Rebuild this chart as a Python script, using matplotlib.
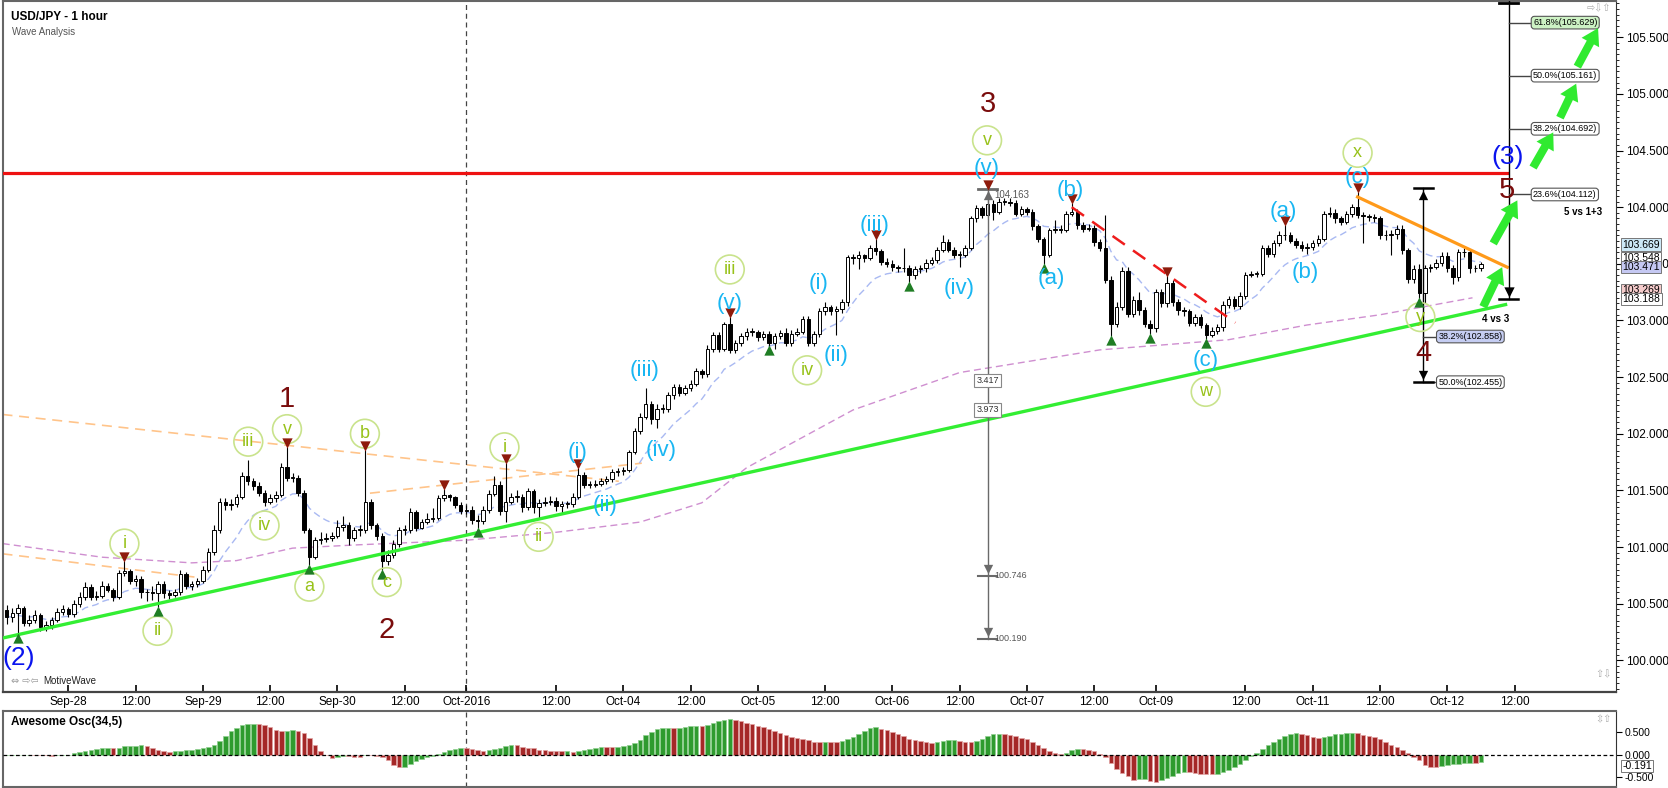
import numpy as np
import pandas as pd
import matplotlib
matplotlib.use('Agg')
import matplotlib.pyplot as plt
from matplotlib.ticker import MultipleLocator, FormatStrFormatter
import matplotlib.transforms as mtrans

plt.rcParams['font.family'] = ['Liberation Sans', 'DejaVu Sans']

# hourly USD/JPY bars, Sep 27 13:00 -> Oct 12 morning (bar index = hour count)
first_open = 100.44
closes = [
    100.38, 100.42, 100.46, 100.33, 100.36, 100.40, 100.29, 100.31, 100.36, 100.43, 100.45, 100.41,
    100.50, 100.56, 100.65, 100.56, 100.57, 100.66, 100.62, 100.56, 100.77, 100.79, 100.70, 100.72,
    100.60, 100.60, 100.59, 100.67, 100.59, 100.58, 100.60, 100.76, 100.66, 100.67, 100.70, 100.80,
    100.96, 101.15, 101.40, 101.37, 101.38, 101.44, 101.63, 101.58, 101.54, 101.48, 101.40, 101.43,
    101.46, 101.71, 101.61, 101.61, 101.48, 101.15, 100.91, 101.06, 101.07, 101.08, 101.10, 101.18,
    101.19, 101.08, 101.15, 101.15, 101.40, 101.19, 101.10, 100.88, 100.93, 101.03, 101.15, 101.15,
    101.31, 101.17, 101.22, 101.25, 101.26, 101.43, 101.46, 101.44, 101.37, 101.32, 101.33, 101.24,
    101.23, 101.33, 101.47, 101.55, 101.32, 101.40, 101.44, 101.44, 101.35, 101.49, 101.35, 101.39,
    101.40, 101.41, 101.36, 101.38, 101.38, 101.44, 101.64, 101.55, 101.55, 101.56, 101.58, 101.60,
    101.66, 101.67, 101.68, 101.84, 102.02, 102.15, 102.26, 102.13, 102.22, 102.22, 102.34, 102.41,
    102.36, 102.40, 102.44, 102.55, 102.53, 102.75, 102.87, 102.75, 102.97, 102.74, 102.80, 102.86,
    102.90, 102.90, 102.85, 102.88, 102.80, 102.86, 102.89, 102.80, 102.88, 102.90, 103.01, 102.80,
    102.88, 103.08, 103.12, 103.08, 103.10, 103.16, 103.56, 103.55, 103.58, 103.55, 103.64, 103.61,
    103.52, 103.50, 103.47, 103.46, 103.46, 103.40, 103.45, 103.46, 103.51, 103.53, 103.62, 103.69,
    103.62, 103.58, 103.58, 103.64, 103.90, 103.99, 103.93, 104.03, 103.96, 104.05, 104.05, 104.04,
    103.94, 103.98, 103.96, 103.83, 103.72, 103.58, 103.80, 103.81, 103.80, 103.94, 103.96, 103.84,
    103.81, 103.82, 103.69, 103.64, 103.36, 102.97, 103.12, 103.44, 103.06, 103.18, 103.09, 102.97,
    102.93, 103.25, 103.15, 103.33, 103.16, 103.09, 103.08, 102.98, 103.03, 102.96, 102.87, 102.91,
    102.94, 103.14, 103.19, 103.13, 103.22, 103.40, 103.41, 103.41, 103.64, 103.59, 103.68, 103.75,
    103.75, 103.70, 103.67, 103.64, 103.65, 103.68, 103.72, 103.94, 103.95, 103.90, 103.87, 103.94,
    104.00, 103.93, 103.92, 103.91, 103.90, 103.75, 103.75, 103.76, 103.81, 103.62, 103.37, 103.45,
    103.24, 103.46, 103.47, 103.51, 103.57, 103.46, 103.38, 103.60, 103.60, 103.46, 103.46, 103.50,
]
highs = [
    100.49, 100.46, 100.50, 100.48, 100.40, 100.44, 100.42, 100.35, 100.38, 100.46, 100.49, 100.47,
    100.53, 100.60, 100.69, 100.67, 100.61, 100.70, 100.68, 100.64, 100.80, 100.88, 100.81, 100.75,
    100.74, 100.63, 100.66, 100.70, 100.70, 100.62, 100.63, 100.80, 100.78, 100.70, 100.73, 100.83,
    100.99, 101.19, 101.43, 101.43, 101.42, 101.47, 101.66, 101.77, 101.61, 101.57, 101.50, 101.47,
    101.49, 101.74, 101.88, 101.65, 101.64, 101.50, 101.17, 101.09, 101.13, 101.12, 101.13, 101.24,
    101.27, 101.22, 101.18, 101.19, 101.86, 101.42, 101.21, 101.12, 100.97, 101.06, 101.18, 101.19,
    101.34, 101.33, 101.25, 101.30, 101.34, 101.46, 101.51, 101.47, 101.45, 101.40, 101.37, 101.36,
    101.28, 101.36, 101.50, 101.63, 101.58, 101.74, 101.48, 101.50, 101.47, 101.52, 101.51, 101.42,
    101.44, 101.45, 101.44, 101.41, 101.41, 101.48, 101.70, 101.66, 101.58, 101.59, 101.61, 101.63,
    101.69, 101.70, 101.71, 101.86, 102.05, 102.18, 102.40, 102.29, 102.26, 102.26, 102.37, 102.44,
    102.44, 102.43, 102.47, 102.58, 102.57, 102.78, 102.90, 102.90, 102.99, 103.03, 102.83, 102.89,
    102.93, 102.93, 102.92, 102.91, 102.91, 102.89, 102.92, 102.93, 102.92, 102.93, 103.04, 103.04,
    102.91, 103.11, 103.16, 103.14, 103.13, 103.19, 103.58, 103.59, 103.61, 103.59, 103.67, 103.72,
    103.63, 103.55, 103.53, 103.49, 103.64, 103.49, 103.48, 103.49, 103.54, 103.56, 103.65, 103.75,
    103.72, 103.65, 103.61, 103.67, 103.92, 104.02, 104.01, 104.16, 104.06, 104.08, 104.08, 104.08,
    104.06, 104.01, 104.00, 103.98, 103.85, 103.74, 103.82, 103.89, 103.84, 103.97, 104.04, 103.98,
    103.87, 103.85, 103.84, 103.72, 103.93, 103.39, 103.16, 103.47, 103.47, 103.22, 103.25, 103.12,
    103.00, 103.28, 103.28, 103.39, 103.36, 103.19, 103.12, 103.10, 103.06, 103.06, 102.98, 102.94,
    102.97, 103.17, 103.22, 103.22, 103.25, 103.43, 103.44, 103.44, 103.67, 103.67, 103.71, 103.79,
    103.84, 103.78, 103.73, 103.70, 103.68, 103.71, 103.75, 103.97, 104.00, 103.98, 103.92, 103.97,
    104.03, 104.13, 103.96, 103.94, 103.94, 103.92, 103.80, 103.80, 103.84, 103.84, 103.64, 103.49,
    103.50, 103.49, 103.50, 103.54, 103.60, 103.60, 103.49, 103.63, 103.64, 103.62, 103.49, 103.52,
]
lows = [
    100.32, 100.34, 100.23, 100.30, 100.30, 100.33, 100.26, 100.26, 100.28, 100.34, 100.40, 100.38,
    100.38, 100.47, 100.53, 100.53, 100.53, 100.55, 100.60, 100.52, 100.54, 100.74, 100.67, 100.66,
    100.55, 100.52, 100.53, 100.47, 100.55, 100.54, 100.56, 100.58, 100.63, 100.62, 100.65, 100.68,
    100.78, 100.93, 101.12, 101.33, 101.33, 101.35, 101.42, 101.55, 101.50, 101.45, 101.36, 101.38,
    101.40, 101.44, 101.58, 101.57, 101.45, 101.12, 100.84, 100.89, 101.03, 101.04, 101.05, 101.08,
    101.14, 101.02, 101.05, 101.10, 101.12, 101.16, 101.06, 100.80, 100.84, 100.90, 101.00, 101.11,
    101.12, 101.14, 101.16, 101.20, 101.22, 101.24, 101.41, 101.41, 101.34, 101.29, 101.29, 101.20,
    101.17, 101.20, 101.30, 101.45, 101.28, 101.22, 101.38, 101.40, 101.31, 101.33, 101.30, 101.25,
    101.36, 101.37, 101.32, 101.30, 101.34, 101.35, 101.42, 101.52, 101.52, 101.53, 101.54, 101.56,
    101.57, 101.63, 101.64, 101.66, 101.82, 102.00, 102.13, 102.09, 102.05, 102.18, 102.19, 102.31,
    102.33, 102.34, 102.38, 102.42, 102.49, 102.50, 102.72, 102.72, 102.73, 102.71, 102.71, 102.77,
    102.83, 102.86, 102.82, 102.83, 102.77, 102.75, 102.84, 102.77, 102.77, 102.86, 102.88, 102.77,
    102.77, 102.85, 103.05, 103.05, 102.87, 103.07, 103.13, 103.50, 103.45, 103.52, 103.53, 103.58,
    103.49, 103.47, 103.44, 103.43, 103.43, 103.34, 103.37, 103.42, 103.43, 103.49, 103.51, 103.60,
    103.60, 103.55, 103.47, 103.56, 103.62, 103.87, 103.90, 103.91, 103.89, 103.94, 104.02, 104.01,
    103.92, 103.92, 103.93, 103.80, 103.69, 103.50, 103.56, 103.77, 103.77, 103.78, 103.92, 103.81,
    103.78, 103.79, 103.66, 103.61, 103.33, 102.86, 102.94, 103.09, 103.03, 103.03, 103.05, 102.94,
    102.88, 102.90, 103.12, 103.12, 103.13, 103.05, 103.04, 102.95, 102.95, 102.93, 102.84, 102.85,
    102.88, 102.91, 103.11, 103.10, 103.10, 103.19, 103.38, 103.38, 103.39, 103.56, 103.56, 103.66,
    103.71, 103.68, 103.64, 103.61, 103.59, 103.62, 103.66, 103.70, 103.91, 103.86, 103.84, 103.85,
    103.91, 103.90, 103.68, 103.88, 103.87, 103.72, 103.71, 103.58, 103.72, 103.59, 103.33, 103.33,
    103.20, 103.15, 103.43, 103.45, 103.48, 103.43, 103.32, 103.35, 103.56, 103.42, 103.43, 103.44,
]

tick_bars = [11, 23, 35, 47, 59, 71, 82, 98, 110, 122, 134, 146, 158, 170, 182, 194, 205, 221, 233, 245, 257, 269]
tick_labels = ['Sep-28', '12:00', 'Sep-29', '12:00', 'Sep-30', '12:00', 'Oct-2016', '12:00', 'Oct-04', '12:00',
               'Oct-05', '12:00', 'Oct-06', '12:00', 'Oct-07', '12:00', 'Oct-09', '12:00', 'Oct-11', '12:00',
               'Oct-12', '12:00']
month_bar = 82

# slow moving average
slow_ma_bars = [-0.7, 17, 33, 41, 51, 63, 82, 98, 113, 124, 132, 151, 170, 195, 218, 232, 245, 261.5]
slow_ma_vals = [101.03, 100.91, 100.86, 100.88, 100.99, 101.02, 101.06, 101.13, 101.22, 101.39, 101.70,
                102.21, 102.54, 102.74, 102.83, 102.96, 103.05, 103.20]

resistance = 104.30
support_bars = [-0.75, 267.4]
support_vals = [100.196, 103.14]
wedge_bars = [241, 267.7]
wedge_vals = [104.09, 103.47]
down_bars = [190, 219.2]
down_vals = [104.00, 102.98]
guide_lines = [([-0.75, 109.2], [102.17, 101.58]),
               ([-0.75, 34.3], [100.94, 100.73]),
               ([64.8, 113.3], [101.475, 101.74])]

peak_bars = [21, 50, 64, 78, 89, 102, 129, 155, 175, 190, 207, 228, 241]
trough_bars = [2, 27, 54, 67, 84, 136, 161, 185, 197, 204, 214, 252]

minor_labels = [('i', 21.0, 101.03), ('ii', 26.9, 100.26), ('iii', 43.1, 101.93), ('iv', 46.0, 101.19),
                ('v', 50.0, 102.04), ('a', 54.0, 100.65), ('b', 63.9, 102.00), ('c', 67.8, 100.69),
                ('i', 88.8, 101.88), ('ii', 94.9, 101.09), ('iii', 129.0, 103.45), ('iv', 142.8, 102.56),
                ('v', 174.9, 104.59), ('w', 213.9, 102.37), ('x', 241.0, 104.48), ('y', 252.2, 103.03)]
minute_labels = [('(i)', 101.8, 101.83), ('(ii)', 106.8, 101.37), ('(iii)', 113.8, 102.56),
                 ('(iv)', 116.8, 101.85), ('(v)', 129.0, 103.15), ('(i)', 144.8, 103.33),
                 ('(ii)', 148.0, 102.69), ('(iii)', 154.8, 103.84), ('(iv)', 169.9, 103.28),
                 ('(v)', 174.9, 104.34), ('(a)', 186.3, 103.37), ('(b)', 189.8, 104.15),
                 ('(c)', 213.9, 102.65), ('(a)', 227.8, 103.96), ('(b)', 231.7, 103.42),
                 ('(c)', 241.0, 104.26)]
major_labels = [('1', 50.0, 102.31), ('2', 67.8, 100.27), ('3', 175.1, 104.91), ('4', 252.7, 102.71),
                ('5', 267.7, 104.15)]
primary_labels = [('(2)', 2.1, 100.02), ('(3)', 267.7, 104.44)]

proj_arrows = [((263.4, 103.12), (266.8, 103.47)), ((265.2, 103.68), (269.5, 104.06)),
               ((272.3, 104.35), (275.9, 104.66)), ((277.1, 104.79), (280.0, 105.09)),
               ((280.2, 105.24), (283.9, 105.58))]

measure_bar = 175
measure_top = 104.163
measure_ends = [100.746, 100.190]
measure_boxes = [('3.417', 102.47), ('3.973', 102.21)]

ext_bar = 268.0
ext_bottom = 103.19
ext_levels = [104.112, 104.692, 105.161, 105.629]
ext_names = ['23.6%', '38.2%', '50.0%', '61.8%']

retr_bar = 252.7
retr_top = 104.17
retr_levels = [102.858, 102.455]
retr_names = ['38.2%', '50.0%']

price_tags = [(103.669, '#cde8f6'), (103.548, 'white'), (103.471, '#c5c8f2'), (103.269, '#f6cccc'),
              (103.188, 'white')]
ao_tag = -0.191

W, H = 1668, 788
fig = plt.figure(figsize=(W / 100, H / 100), dpi=100)
ax = fig.add_axes([0.0015, 1 - 692 / H, 1616 / W - 0.0015, 691 / H])
ax2 = fig.add_axes([0.0015, 1 / H, 1616 / W - 0.0015, 1 - 711 / H - 1 / H])

n = len(closes)
idx = np.arange(n)
c = np.array(closes)
o = np.r_[first_open, c[:-1]]
hi = np.array(highs)
lo = np.array(lows)
up = c >= o

ax.vlines(idx, lo, hi, color='black', lw=0.8, zorder=3)
ax.bar(idx, np.maximum(np.abs(c - o), 0.006), bottom=np.minimum(o, c), width=0.62,
       color=np.where(up, 'white', 'black'), edgecolor='black', lw=0.7, zorder=4)

fast_ma = pd.Series(c).ewm(span=12, adjust=False).mean()
ax.plot(idx, fast_ma, color='#a9b9f2', lw=1.0, ls=(0, (5, 3)), zorder=2)
ax.plot(slow_ma_bars, slow_ma_vals, color='#cf8fd0', lw=1.0, ls=(0, (5, 3)), zorder=2)

for gb, gv in guide_lines:
    ax.plot(gb, gv, color='#ffc48a', lw=1.2, ls=(0, (6, 4)), zorder=1)

ax.axvline(month_bar, color='#444444', lw=0.9, ls=(0, (4, 3)), zorder=1)
ax2.axvline(month_bar, color='#444444', lw=0.9, ls=(0, (4, 3)), zorder=1)

ax.plot([-0.75, 267.7], [resistance, resistance], color='#ee1111', lw=2.3, zorder=5)
ax.plot(support_bars, support_vals, color='#33ee33', lw=2.4, zorder=5)
ax.plot(wedge_bars, wedge_vals, color='#ff9a1a', lw=2.3, zorder=5)
ax.plot(down_bars, down_vals, color='#ee1c1c', lw=1.8, ls=(0, (6, 4)), zorder=5)

# swing markers
pk = np.array(peak_bars)
tr = np.array(trough_bars)
ax.scatter(pk, hi[pk] + 0.035, marker='v', s=55, color='#8e1b0c', zorder=8, linewidths=0)
ax.scatter(tr, lo[tr] - 0.035, marker='^', s=55, color='#1f7d24', zorder=8, linewidths=0)

# measurement tool (wave 3 length)
gray = '#6a6a6a'
ax.plot([measure_bar, measure_bar], [measure_top, measure_ends[-1]], color=gray, lw=1.0, zorder=5)
ax.plot([measure_bar - 1.7, measure_bar + 1.7], [measure_top, measure_top], color=gray, lw=2, zorder=6)
ax.scatter([measure_bar], [measure_top - 0.06], marker='^', s=45, color=gray, zorder=6, linewidths=0)
for lv in measure_ends:
    ax.plot([measure_bar - 1.7, measure_bar + 1.7], [lv, lv], color=gray, lw=1.5, zorder=6)
    ax.scatter([measure_bar], [lv + 0.06], marker='v', s=45, color=gray, zorder=6, linewidths=0)
    ax.text(measure_bar + 1.2, lv, f'{lv:.3f}', fontsize=6.5, color='#555555', va='center', ha='left', zorder=7)
ax.text(measure_bar + 1.2, measure_top - 0.06, f'{measure_top:.3f}', fontsize=7, color='#555555',
        va='center', ha='left', zorder=7)
for txt, yv in measure_boxes:
    ax.text(measure_bar, yv, txt, fontsize=6.5, color='#333333', ha='center', va='center', zorder=7,
            bbox=dict(boxstyle='square,pad=0.25', fc='white', ec='#888888', lw=0.8))

# wave 5 extension tool
ax.plot([ext_bar, ext_bar], [105.83, ext_bottom], color='black', lw=1.0, zorder=5)
ax.plot([ext_bar - 1.7, ext_bar + 1.7], [105.80, 105.80], color='black', lw=2, zorder=6)
ax.plot([ext_bar - 1.7, ext_bar + 1.7], [ext_bottom, ext_bottom], color='black', lw=1.8, zorder=6)
ax.scatter([ext_bar], [ext_bottom + 0.06], marker='v', s=55, color='black', zorder=6, linewidths=0)
for lv, nm in zip(ext_levels, ext_names):
    ax.plot([ext_bar, ext_bar + 4.1], [lv, lv], color='#444444', lw=1.0, zorder=5)
    fc = '#cdf2c4' if nm == '61.8%' else 'white'
    ax.text(ext_bar + 4.3, lv, f'{nm}({lv:.3f})', fontsize=6.5, ha='left', va='center', zorder=7,
            bbox=dict(boxstyle='round,pad=0.2,rounding_size=0.35', fc=fc, ec='#555555', lw=0.8))
ax.text(281.2, 103.96, '5 vs 1+3', fontsize=7, fontweight='bold', ha='center', va='center', zorder=7)
ax.text(265.7, 103.01, '4 vs 3', fontsize=7, fontweight='bold', ha='center', va='center', zorder=7)

# wave 4 retracement tool
ax.plot([retr_bar, retr_bar], [retr_top, retr_levels[-1]], color='black', lw=1.0, zorder=5)
ax.plot([retr_bar - 1.7, retr_bar + 1.7], [retr_top, retr_top], color='black', lw=1.8, zorder=6)
ax.scatter([retr_bar], [retr_top - 0.06], marker='^', s=45, color='black', zorder=6, linewidths=0)
ax.scatter([retr_bar], [retr_levels[-1] + 0.06], marker='v', s=45, color='black', zorder=6, linewidths=0)
ax.plot([retr_bar - 1.7, retr_bar + 1.7], [retr_levels[-1], retr_levels[-1]], color='black', lw=1.8, zorder=6)
for lv, nm in zip(retr_levels, retr_names):
    ax.plot([retr_bar, retr_bar + 2.5], [lv, lv], color='#444444', lw=1.0, zorder=5)
    fc = '#c5cdf2' if nm == '38.2%' else 'white'
    ax.text(retr_bar + 2.7, lv, f'{nm}({lv:.3f})', fontsize=6.5, ha='left', va='center', zorder=7,
            bbox=dict(boxstyle='round,pad=0.2,rounding_size=0.35', fc=fc, ec='#555555', lw=0.8))

# projection arrows
for (x0, y0), (x1, y1) in proj_arrows:
    ax.annotate('', xy=(x1, y1), xytext=(x0, y0), zorder=8,
                arrowprops=dict(arrowstyle='simple,head_length=0.9,head_width=1.1,tail_width=0.45',
                                color='#30ea30', lw=0, mutation_scale=13, shrinkA=0, shrinkB=0))

# wave labels
lg = '#98c21a'
ax.scatter([b for _, b, _ in minor_labels], [p for _, _, p in minor_labels], s=430, facecolors='none',
           edgecolors='#c9e38c', linewidths=1.2, zorder=7)
for t, b, p in minor_labels:
    ax.text(b, p, t, color=lg, fontsize=13, ha='center', va='center', zorder=8)
for t, b, p in minute_labels:
    ax.text(b, p, t, color='#19b6f2', fontsize=16, ha='center', va='center', zorder=8)
for t, b, p in major_labels:
    ax.text(b, p, t, color='#7a0c0c', fontsize=21, ha='center', va='center', zorder=8)
for t, b, p in primary_labels:
    ax.text(b, p, t, color='#0a14ee', fontsize=19, ha='center', va='center', zorder=8)

# price axis
ax.set_xlim(-0.75, 287.1)
ax.set_ylim(99.72, 105.82)
ax.yaxis.tick_right()
ax.yaxis.set_major_locator(MultipleLocator(0.5))
ax.yaxis.set_minor_locator(MultipleLocator(0.05))
ax.yaxis.set_major_formatter(FormatStrFormatter('%.3f'))
ax.tick_params(axis='y', which='major', direction='out', length=5, labelsize=8.5, pad=2)
ax.tick_params(axis='y', which='minor', direction='out', length=2.5)
ax.set_xticks(tick_bars)
ax.set_xticklabels(tick_labels)
ax.tick_params(axis='x', direction='in', length=5, labelsize=8.5, pad=3, width=1.2)
for s in ['left', 'top']:
    ax.spines[s].set_color('#666666')
    ax.spines[s].set_linewidth(1.5)
ax.spines['bottom'].set_color('#444444')
ax.spines['bottom'].set_linewidth(1.6)
ax.spines['right'].set_color('#333333')

tr_tag = mtrans.blended_transform_factory(ax.transAxes, ax.transData)
for pv, col in price_tags:
    ax.text(1.004, pv, f'{pv:.3f}', transform=tr_tag, fontsize=7.5, ha='left', va='center', clip_on=False,
            zorder=9, bbox=dict(boxstyle='square,pad=0.12', fc=col, ec='#777777', lw=0.7))

ax.text(0.005, 0.985, 'USD/JPY - 1 hour', transform=ax.transAxes, fontsize=8.5, fontweight='bold',
        va='top', ha='left')
ax.text(0.006, 0.962, 'Wave Analysis', transform=ax.transAxes, fontsize=7, color='#555555', va='top', ha='left')
ax.text(0.005, 0.008, '⇔ ⇨⇦', transform=ax.transAxes, fontsize=7, color='#999999', va='bottom', ha='left',
        family='DejaVu Sans')
ax.text(0.025, 0.008, 'MotiveWave', transform=ax.transAxes, fontsize=7, color='#222222', va='bottom', ha='left')
ax.text(0.997, 0.996, '⇨⇩⇧', transform=ax.transAxes, fontsize=7, color='#aaaaaa', va='top', ha='right',
        family='DejaVu Sans')
ax.text(0.997, 0.018, '⇧⇩', transform=ax.transAxes, fontsize=7, color='#aaaaaa', va='bottom', ha='right',
        family='DejaVu Sans')

# Awesome oscillator from the median price
med = pd.Series((hi + lo) / 2)
ao = (med.rolling(5, min_periods=1).mean() - med.rolling(34, min_periods=1).mean()).values
rising = np.r_[True, ao[1:] >= ao[:-1]]
ax2.bar(idx, ao, width=0.8, color=np.where(rising, '#2f9b2f', '#a52828'),
        edgecolor=np.where(rising, '#8fd08f', '#e2a3a3'), lw=0.5, zorder=3)
ax2.axhline(0, color='black', lw=0.9, ls=(0, (3, 2)), zorder=4)
ax2.set_xlim(-0.75, 287.1)
ax2.set_ylim(-0.72, 0.97)
ax2.set_xticks([])
ax2.yaxis.tick_right()
ax2.set_yticks([0.5, 0.0, -0.5])
ax2.yaxis.set_major_formatter(FormatStrFormatter('%.3f'))
ax2.tick_params(axis='y', direction='out', length=4, labelsize=7.5, pad=2)
for s in ['left', 'top', 'bottom']:
    ax2.spines[s].set_color('#666666')
    ax2.spines[s].set_linewidth(1.5)
ax2.spines['right'].set_color('#333333')
tr_tag2 = mtrans.blended_transform_factory(ax2.transAxes, ax2.transData)
ax2.text(1.004, ao_tag - 0.06, f'{ao_tag:.3f}', transform=tr_tag2, fontsize=7.5, ha='left', va='center',
         clip_on=False, zorder=9, bbox=dict(boxstyle='square,pad=0.1', fc='white', ec='#777777', lw=0.7))
ax2.text(0.005, 0.93, 'Awesome Osc(34,5)', transform=ax2.transAxes, fontsize=8.5, fontweight='bold',
         va='top', ha='left')
ax2.text(0.997, 0.95, '⇳⇧', transform=ax2.transAxes, fontsize=7, color='#aaaaaa', va='top', ha='right',
         family='DejaVu Sans')

fig.savefig('out.png', dpi=100)
